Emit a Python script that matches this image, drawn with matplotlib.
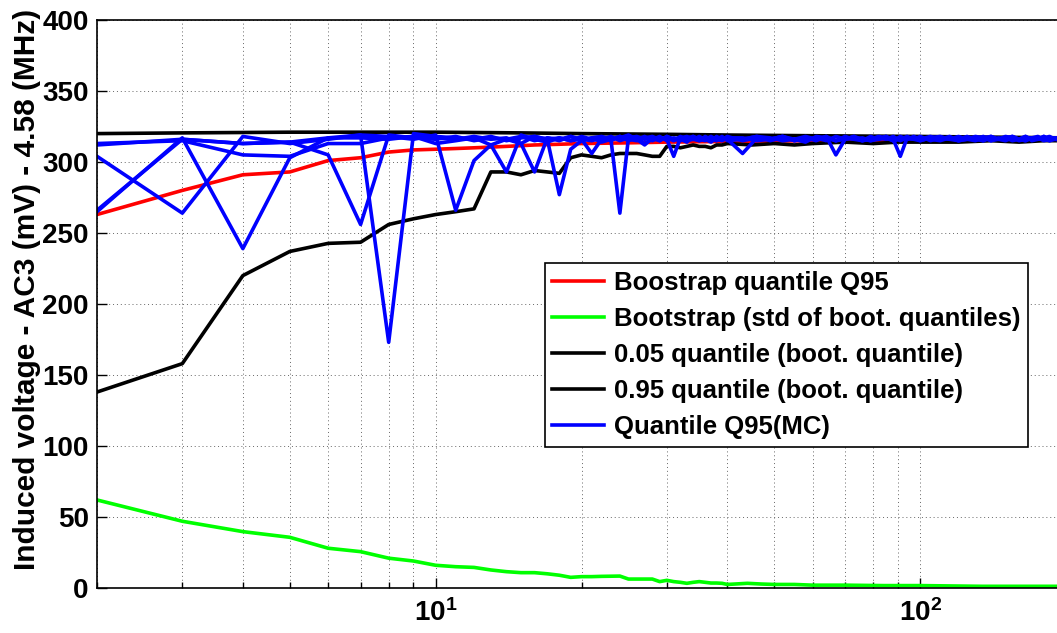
import matplotlib.pyplot as plt
import matplotlib as mpl
from matplotlib.ticker import FixedLocator, FixedFormatter, NullFormatter

mpl.rcParams['font.family'] = ['Liberation Sans', 'DejaVu Sans']
mpl.rcParams['font.weight'] = 'bold'
mpl.rcParams['mathtext.fontset'] = 'custom'
mpl.rcParams['mathtext.rm'] = 'Liberation Sans:bold'
mpl.rcParams['mathtext.bf'] = 'Liberation Sans:bold'
mpl.rcParams['mathtext.default'] = 'bf'

##################
# data

x_red = [2, 3, 4, 5, 6, 7, 8, 9, 10, 11, 12, 13, 14, 15, 16, 18, 20, 25, 30, 40, 60, 100, 200]
red = [263, 280, 291, 293, 301, 303, 307, 308.5, 309, 309.5, 310, 310.5, 311, 311.5, 312,
       312.5, 313, 313.5, 314, 314.5, 315, 315.5, 315.5]

x_green = list(range(2, 41)) + [44, 47, 50, 55, 60, 70, 84, 100, 134, 160, 200]
green = [62, 47, 39.7, 35.7, 28, 25.6, 21, 19, 16, 15, 14.5, 12.7, 11.5, 10.8, 10.8, 10, 9,
         7.5, 8, 8, 8.2, 8.3, 8.4, 6.3, 6.3, 6.3, 6.3, 4.5, 5.4, 4.5, 4, 3.3, 4, 4.5, 4,
         3.5, 3.5, 3.3, 2.5,
         3.3, 2.8, 2.5, 2.5, 2, 2, 1.7, 1.7, 1.2, 1.2, 1.2]

x_q05 = list(range(2, 41)) + [45, 50, 55, 60, 70, 80, 90, 100, 120, 140, 160, 180, 200]
q05 = [138, 158, 220, 237, 242.7, 243.5, 256, 260, 263, 265, 267, 293, 293, 291, 294, 293,
       292, 303, 305, 304, 303, 305, 306, 306, 306, 305, 304, 304, 311, 311, 310, 311, 312,
       311, 311, 310, 312, 312, 313,
       312, 313, 312, 313, 314, 313, 314, 314, 314, 315, 314, 315, 315]

x_q95 = [2, 3, 5, 10, 15, 20, 30, 40, 60, 100, 200]
q95 = [320, 320.5, 321, 321, 320.5, 320, 319.5, 319, 318.5, 318, 317]

# Monte Carlo runs (5 repetitions)
x_mc = list(range(2, 41)) + list(range(43, 101, 3)) + list(range(105, 201, 5))
mc_a = [312, 316, 313, 314, 305, 256, 319, 317, 316, 318, 315, 317, 316, 313, 318, 316, 277,
        309, 315, 317, 314, 316, 318, 315, 317, 313, 316, 318, 315, 317, 316, 314, 318, 316,
        315, 317, 316, 318, 315,
        316, 318, 315, 317, 316, 314, 318, 317, 315, 316, 318, 316, 315, 317, 316, 318, 315,
        317, 316, 315,
        317, 316, 318, 315, 316, 317, 315, 318, 316, 317, 315, 316, 318, 316, 317, 315, 316,
        317, 316, 315]
mc_b = [313, 315, 305, 304, 313, 313, 317, 318, 313, 315, 317, 312, 293, 319, 316, 314, 317,
        315, 316, 306, 316, 318, 315, 317, 316, 312, 317, 315, 318, 316, 317, 315, 316, 318,
        316, 314, 317, 316, 318,
        315, 317, 316, 318, 315, 316, 317, 315, 318, 316, 317, 315, 316, 318, 317, 315, 316,
        318, 316, 317,
        316, 315, 317, 316, 318, 316, 315, 317, 316, 318, 317, 315, 316, 317, 316, 318, 315,
        316, 317, 316]
mc_c = [304, 264, 318, 313, 316, 319, 318, 316, 319, 266, 301, 312, 316, 318, 315, 317, 316,
        318, 315, 317, 318, 316, 317, 319, 316, 318, 315, 317, 316, 304, 317, 318, 316, 315,
        318, 316, 315, 317, 316,
        306, 317, 316, 318, 315, 317, 316, 318, 315, 317, 316, 315, 318, 316, 317, 315, 318,
        316, 317, 315,
        317, 318, 316, 315, 317, 316, 318, 315, 317, 316, 318, 316, 315, 317, 318, 316, 315,
        317, 316, 318]
mc_d = [265, 317, 239, 303, 317, 317, 316, 318, 317, 316, 318, 316, 317, 313, 293, 317, 315,
        318, 316, 315, 317, 315, 318, 316, 315, 317, 318, 316, 317, 315, 318, 316, 317, 315,
        316, 318, 316, 315, 317,
        317, 315, 316, 318, 316, 317, 315, 318, 305, 316, 318, 315, 317, 316, 318, 315, 317,
        316, 318, 316,
        318, 316, 317, 315, 316, 318, 317, 315, 316, 317, 318, 316, 315, 317, 316, 318, 316,
        317, 315, 316]
mc_e = [266, 316, 313, 314, 317, 319, 173, 320, 318, 317, 316, 318, 315, 317, 318, 316, 317,
        315, 318, 316, 317, 316, 264, 317, 318, 316, 317, 315, 318, 316, 315, 317, 318, 316,
        317, 315, 318, 316, 317,
        316, 318, 317, 315, 316, 318, 316, 317, 315, 318, 316, 317, 315, 316, 318, 316, 304,
        317, 316, 318,
        315, 317, 316, 318, 316, 315, 317, 318, 316, 315, 317, 316, 318, 315, 316, 317, 318,
        316, 315, 317]

labels = ['Boostrap quantile Q95', 'Bootstrap (std of boot. quantiles)',
          '0.05 quantile (boot. quantile)', '0.95 quantile (boot. quantile)',
          'Quantile Q95(MC)']

##################

fig = plt.figure(figsize=(10.57, 6.33), dpi=100)
ax = fig.add_axes([97 / 1057, 1 - 588 / 633, 969 / 1057, 568 / 633])

lw = 2.6
ax.plot(x_red, red, color='#ff0000', lw=lw, label=labels[0])
ax.plot(x_green, green, color='#00ff00', lw=lw, label=labels[1])
ax.plot(x_q05, q05, color='black', lw=lw, label=labels[2])
ax.plot(x_q95, q95, color='black', lw=lw, label=labels[3])
ax.plot(x_mc, mc_a, color='#0000ff', lw=lw, label=labels[4])
for run in (mc_b, mc_c, mc_d, mc_e):
    ax.plot(x_mc, run, color='#0000ff', lw=lw)

ax.set_xscale('log')
ax.set_xlim(2, 200)
ax.set_ylim(0, 400)
ax.set_yticks(range(0, 401, 50))
ax.xaxis.set_major_locator(FixedLocator([10, 100]))
ax.xaxis.set_major_formatter(FixedFormatter([r'$10^{1}$', r'$10^{2}$']))
minors = [m * d for d in (1, 10, 100) for m in range(2, 10) if 2 <= m * d <= 200]
ax.xaxis.set_minor_locator(FixedLocator(minors))
ax.xaxis.set_minor_formatter(NullFormatter())

ax.tick_params(which='both', direction='in', labelsize=20, width=1)
ax.tick_params(which='major', length=7)
ax.tick_params(which='minor', length=4)
ax.tick_params(axis='x', pad=8)
ax.tick_params(axis='y', pad=6)
for lab in ax.get_yticklabels():
    lab.set_fontweight('bold')

ax.grid(True, which='major', axis='both', ls=(0, (1, 3)), color='#666666', lw=0.7)
ax.grid(True, which='minor', axis='x', ls=(0, (1, 3)), color='#666666', lw=0.7)
for s in ax.spines.values():
    s.set_linewidth(1.2)

ax.set_ylabel('Induced voltage - AC3 (mV) - 4.58 (MHz)', fontsize=21.5, fontweight='bold')
ax.yaxis.set_label_coords(-0.058, 0.525)

leg = ax.legend(loc='upper left', bbox_to_anchor=(0.462, 0.572), fontsize=18.5,
                frameon=True, fancybox=False, edgecolor='black', framealpha=1,
                handlelength=2.0, handletextpad=0.4, borderpad=0.3, labelspacing=0.47,
                borderaxespad=0)
leg.get_frame().set_linewidth(1.2)
for t in leg.get_texts():
    t.set_fontweight('bold')

plt.savefig('out.png', dpi=100)
